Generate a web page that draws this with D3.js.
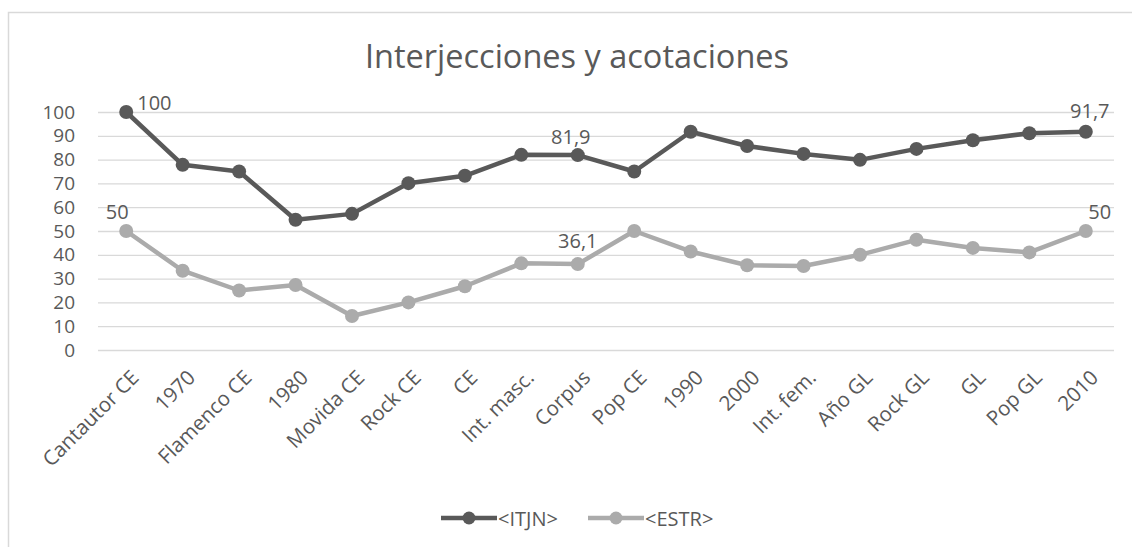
<!DOCTYPE html>
<html>
<head>
<meta charset="utf-8">
<script src="https://cdn.jsdelivr.net/npm/d3@7"></script>
<style>
  body { margin: 0; background: #fff; }
  svg { display: block; font-family: "Open Sans", sans-serif; }
</style>
</head>
<body>
<div id="chart"></div>
<script>
const categories = ["Cantautor CE", "1970", "Flamenco CE", "1980", "Movida CE", "Rock CE", "CE",
  "Int. masc.", "Corpus", "Pop CE", "1990", "2000", "Int. fem.", "Año GL", "Rock GL", "GL", "Pop GL", "2010"];
const itjn = [100, 77.8, 75, 54.7, 57.2, 70.1, 73.2, 82, 81.9, 75, 91.7, 85.7, 82.4, 79.9, 84.5, 88.1, 91.1, 91.7];
const estr = [50, 33.3, 25, 27.3, 14.3, 20, 26.8, 36.4, 36.1, 50, 41.4, 35.6, 35.3, 40, 46.3, 42.9, 41, 50];
const seriesNames = ["<ITJN>", "<ESTR>"];
const yTicks = [0, 10, 20, 30, 40, 50, 60, 70, 80, 90, 100];
// which points carry a data label: [series index, point index]
const labelled = [[0, 0], [1, 0], [0, 8], [1, 8], [0, 17], [1, 17]];

const W = 1132, H = 547;
const margin = {top: 112, right: 18, bottom: 197, left: 98};
const width = W - margin.left - margin.right, height = H - margin.top - margin.bottom;
const colors = ["#595959", "#ababab"];
const textColor = "#595959";

const svg = d3.select("#chart").append("svg").attr("width", W).attr("height", H);

// chart area border (runs off the right and bottom edges)
svg.append("rect")
  .attr("x", 8.5).attr("y", 12.5).attr("width", 1300).attr("height", 700)
  .attr("fill", "none").attr("stroke", "#d9d9d9").attr("stroke-width", 1.5);

svg.append("text")
  .attr("x", 577).attr("y", 68)
  .attr("text-anchor", "middle")
  .attr("font-size", "32.5px").attr("fill", textColor)
  .text("Interjecciones y acotaciones");

const g = svg.append("g").attr("transform", "translate(" + margin.left + "," + margin.top + ")");

const x = d3.scaleBand().domain(categories).range([0, width]);
const y = d3.scaleLinear().domain([0, 100]).range([height, 0]);
const cx = d => x(d) + x.bandwidth() / 2;

// gridlines + y labels
const yAxis = g.append("g")
  .call(d3.axisLeft(y).tickValues(yTicks).tickSize(-width).tickPadding(23));
yAxis.select(".domain").remove();
yAxis.selectAll("line").attr("stroke", "#d9d9d9").attr("stroke-width", 1.3);
yAxis.selectAll("text").attr("font-size", "19px").attr("fill", textColor)
  .attr("font-family", "Open Sans");

// x labels, rotated
const xAxis = g.append("g")
  .attr("transform", "translate(0," + height + ")")
  .call(d3.axisBottom(x).tickSize(0));
xAxis.select(".domain").remove();
xAxis.selectAll("text")
  .attr("font-size", "20.5px").attr("fill", textColor).attr("font-family", "Open Sans")
  .attr("text-anchor", "end")
  .attr("dy", null).attr("y", 0)
  .attr("transform", "translate(10,25) rotate(-45)")
  .attr("dominant-baseline", "middle");

const series = [itjn, estr];
const line = d3.line().x((d, i) => cx(categories[i])).y(d => y(d));

series.forEach((vals, s) => {
  g.append("path")
    .datum(vals)
    .attr("d", line)
    .attr("fill", "none")
    .attr("stroke", colors[s])
    .attr("stroke-width", 4.5)
    .attr("stroke-linejoin", "round");
  g.selectAll(".pt" + s)
    .data(vals)
    .enter().append("circle")
    .attr("cx", (d, i) => cx(categories[i]))
    .attr("cy", d => y(d))
    .attr("r", 7)
    .attr("fill", colors[s]);
});

// data label offsets from the point (style only)
const labelOffset = {"0-0": [11, -10, "start"], "1-0": [-9, -20, "middle"], "0-8": [-7, -19, "middle"],
  "1-8": [0, -24, "middle"], "0-17": [4, -21, "middle"], "1-17": [14, -20, "middle"]};
labelled.forEach(([s, i]) => {
  const off = labelOffset[s + "-" + i];
  g.append("text")
    .attr("x", cx(categories[i]) + off[0])
    .attr("y", y(series[s][i]) + off[1])
    .attr("text-anchor", off[2])
    .attr("dominant-baseline", "central")
    .attr("font-size", "20px").attr("fill", textColor)
    .text(String(series[s][i]).replace(".", ","));
});

// legend
const legendX = [441, 588];
const legend = svg.append("g").attr("transform", "translate(0,518)");
seriesNames.forEach((name, s) => {
  const lg = legend.append("g").attr("transform", "translate(" + legendX[s] + ",0)");
  lg.append("line").attr("x1", 0).attr("x2", 56).attr("y1", 0).attr("y2", 0)
    .attr("stroke", colors[s]).attr("stroke-width", 4.5);
  lg.append("circle").attr("cx", 28).attr("cy", 0).attr("r", 6.5).attr("fill", colors[s]);
  lg.append("text").attr("x", 57).attr("y", 0)
    .attr("dominant-baseline", "central")
    .attr("font-size", "20px").attr("fill", textColor)
    .text(name);
});
</script>
</body>
</html>
